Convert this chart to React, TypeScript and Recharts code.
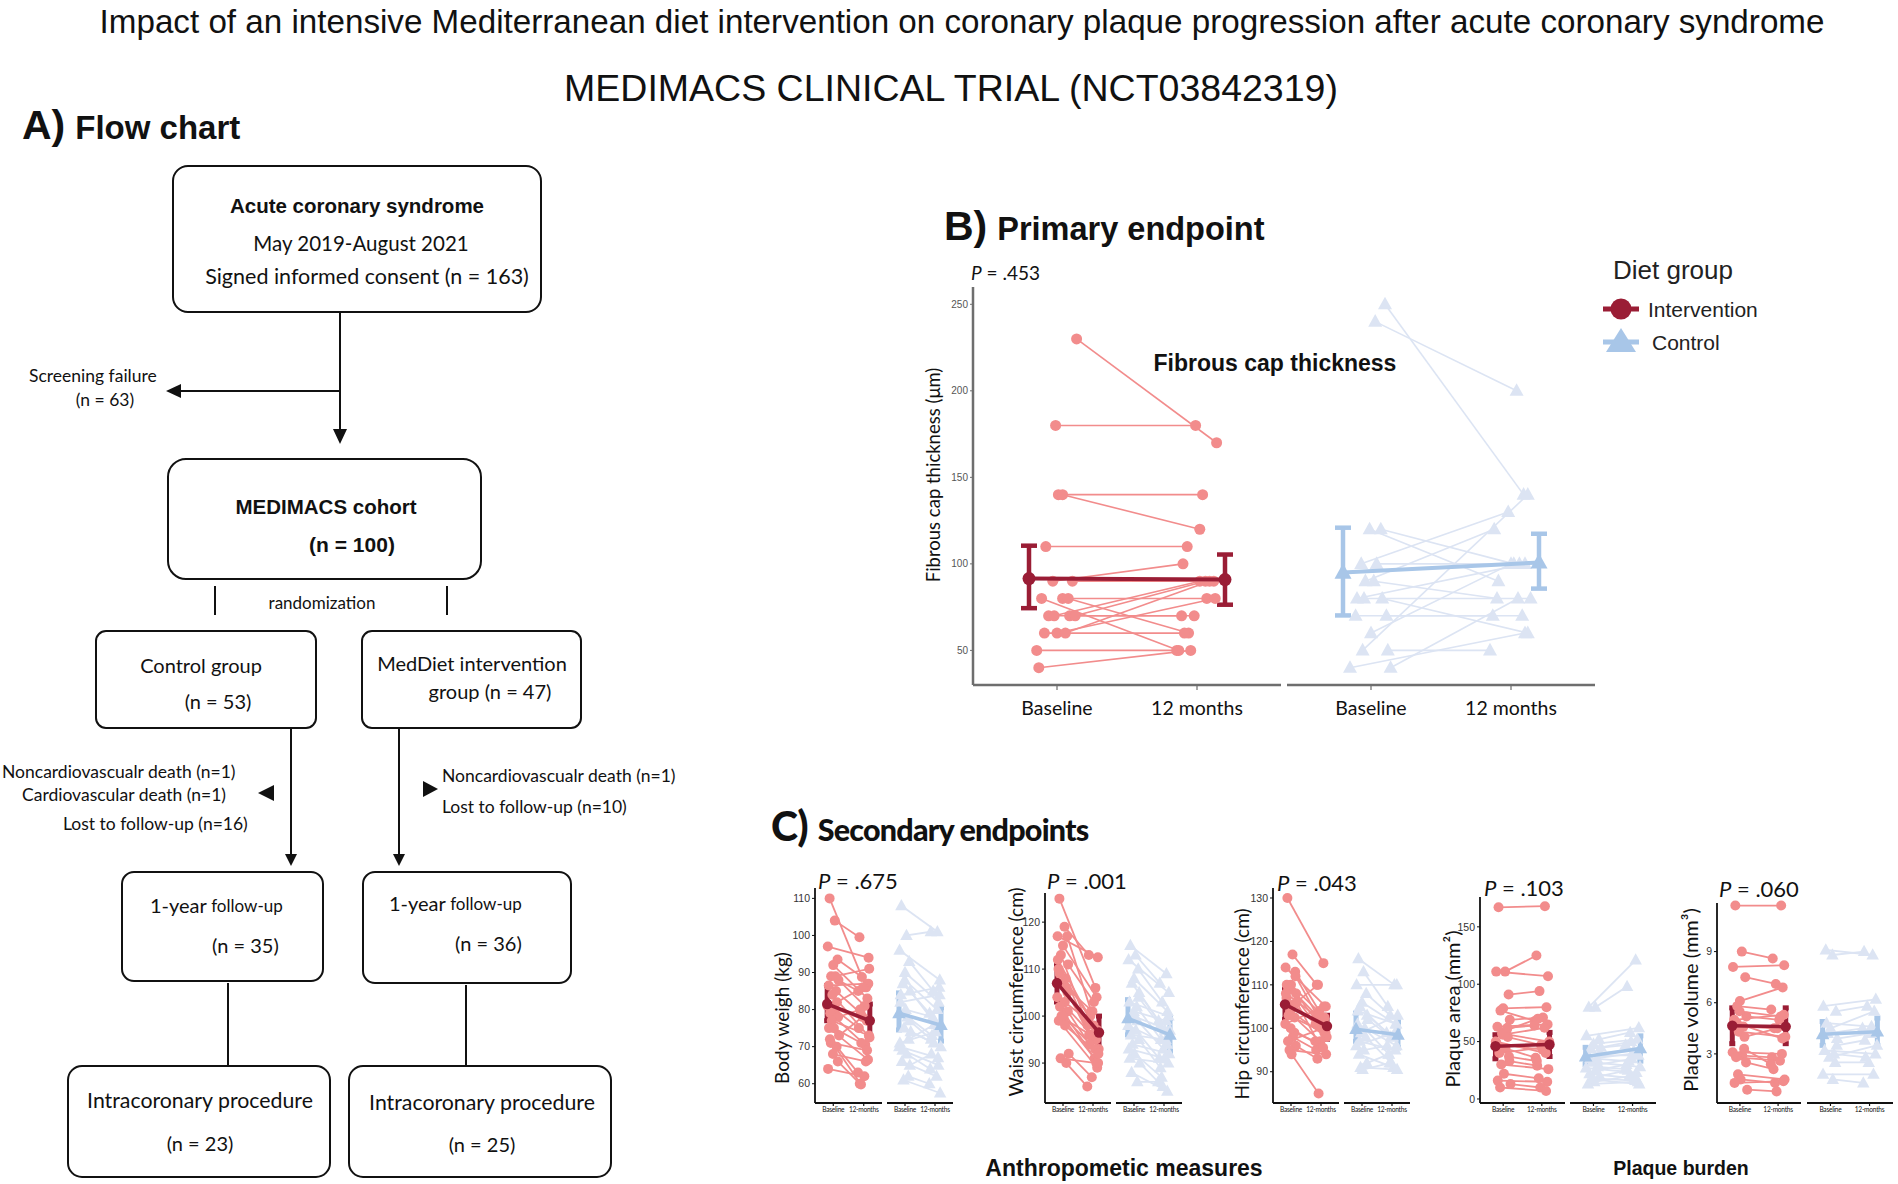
import React from 'react';
import { ScatterChart, Scatter, XAxis, YAxis, ErrorBar } from 'recharts';

const ARIAL = '"Liberation Sans", Arial, sans-serif';
const GILL = 'Lato, "Open Sans", sans-serif';

const INT_PT = '#F28C8C';
const INT_MEAN = '#9A1D35';
const CTRL_PT = '#DCE4F3';
const CTRL_MEAN = '#A8C6E8';

const TIME_B = ['Baseline', '12 months'];
const TIME_C = ['Baseline', '12-months'];
const MEAN_X = [0.8, 2.2];

// ---------- Panel B: fibrous cap thickness (µm) ----------
const FCT_INT_BASE = [230, 180, 140, 140, 110, 90, 90, 80, 80, 80, 70, 70, 70, 70, 60, 60, 60, 50, 40];
const FCT_INT_12M = [170, 180, 140, 120, 110, 100, 90, 50, 80, 60, 70, 90, 70, 90, 60, 80, 90, 50, 50];
const FCT_INT_BX = [1.14, 0.99, 1.01, 1.04, 0.92, 0.97, 1.11, 0.89, 1.04, 1.08, 0.94, 0.98, 1.09, 1.13, 0.91, 1.0, 1.06, 0.855, 0.87];
const FCT_INT_MX = [2.14, 1.99, 2.04, 2.02, 1.93, 1.9, 2.12, 1.87, 2.07, 1.94, 1.89, 2.02, 1.98, 2.06, 1.91, 2.13, 2.09, 1.855, 1.955];
const FCT_CTRL_BASE = [250, 240, 120, 120, 100, 100, 90, 90, 80, 80, 80, 70, 70, 60, 50, 50, 40, 40];
const FCT_CTRL_12M = [140, 200, 90, 100, 130, 100, 120, 80, 100, 80, 60, 70, 70, 100, 140, 50, 60, 80];
const FCT_CTRL_BX = [1.1, 1.03, 0.99, 1.07, 0.93, 1.04, 0.96, 1.02, 0.9, 0.95, 1.08, 0.89, 1.11, 1.0, 0.94, 1.12, 0.85, 1.14];
const FCT_CTRL_MX = [2.09, 2.04, 1.91, 2.02, 1.98, 2.06, 1.88, 1.9, 2.1, 2.14, 2.12, 1.87, 2.08, 2.0, 2.12, 1.85, 2.1, 2.05];
const FCT_INT_MEAN = [91.5, 90.9];
const FCT_INT_LO = [74.4, 76.4];
const FCT_INT_HI = [110.5, 105.4];
const FCT_CTRL_MEAN = [95, 100.8];
const FCT_CTRL_LO = [70.2, 85.7];
const FCT_CTRL_HI = [120.9, 117.4];
const FCT_TICKS = [50, 100, 150, 200, 250];

// ---------- Panel C: jitter (category offsets) ----------
const JB = [-0.12, 0.05, -0.18, 0.14, 0.0, -0.07, 0.17, -0.15, 0.09, -0.03, 0.12, -0.19, 0.06, -0.1, 0.16, -0.05, 0.02, -0.14, 0.19, -0.08, 0.11, -0.01, 0.15, -0.17, 0.07, -0.11, 0.13, -0.04, 0.18, -0.16];
const JM = [0.08, -0.14, 0.16, -0.06, 0.12, -0.18, 0.03, 0.15, -0.1, 0.19, -0.02, 0.1, -0.16, 0.05, -0.12, 0.17, -0.08, 0.14, -0.04, 0.11, -0.19, 0.07, -0.13, 0.02, 0.18, -0.09, 0.06, -0.15, 0.13, -0.01];

// Body weight (kg)
const BW_INT_BASE = [110, 104, 97, 93.5, 92, 89, 88, 86.5, 85, 84, 82, 81, 80, 79, 78, 77, 75, 75, 73, 71, 70, 68, 66, 64, 89, 72];
const BW_INT_12M = [86, 99.5, 94, 88.8, 83, 85, 81, 87, 79, 72.5, 86, 77, 75, 70.5, 80, 73, 71, 66.5, 78, 69, 63, 66, 60, 62, 91, 59.8];
const BW_CTRL_BASE = [108, 100, 96, 93, 90, 87, 85, 82, 78, 75, 72, 70, 68, 66, 65, 61, 80, 84, 74, 69, 62, 88, 77, 71];
const BW_CTRL_12M = [101, 101, 88, 85, 82, 79, 76, 84, 73, 70, 76, 67, 64, 62, 68, 57.5, 78, 86, 71, 65, 60, 80, 72, 74];
const BW_INT_MEAN = [81.5, 77];
const BW_INT_LO = [77, 73];
const BW_INT_HI = [86.5, 81.5];
const BW_CTRL_MEAN = [79, 75.8];
const BW_CTRL_LO = [74.5, 71.5];
const BW_CTRL_HI = [84.5, 80.5];
const BW_TICKS = [60, 70, 80, 90, 100, 110];

// Waist circumference (cm)
const WC_INT_BASE = [125, 119, 117, 117, 115, 113, 111, 110, 108, 107, 106, 104, 103, 102, 101, 100, 99.5, 99, 92, 91, 90, 100, 105, 112, 98, 109];
const WC_INT_12M = [106, 113, 112.5, 101, 104, 98, 103, 97, 96, 93, 101, 95, 99, 91, 94, 90, 96, 89, 87, 90, 85, 93, 96, 98, 92, 100];
const WC_CTRL_BASE = [115, 113, 112, 110, 108, 107, 105, 103, 102, 100, 99, 98, 97, 96, 95, 94, 92, 91, 90, 88, 86, 101, 104, 93];
const WC_CTRL_12M = [109, 107, 105, 103, 101, 99, 97, 100, 95, 97, 93, 94, 91, 95, 89, 92, 87, 90, 85, 84, 86, 99, 98, 91];
const WC_INT_MEAN = [107, 96.5];
const WC_INT_LO = [103, 93];
const WC_INT_HI = [111, 100];
const WC_CTRL_MEAN = [99.5, 96];
const WC_CTRL_LO = [96, 92.5];
const WC_CTRL_HI = [103.5, 99.5];
const WC_TICKS = [90, 100, 110, 120];

// Hip circumference (cm)
const HC_INT_BASE = [130, 117, 114, 113, 110, 109, 108, 107, 105.5, 104, 102.5, 101, 98, 97, 96, 95, 94, 110, 106, 103, 99, 100, 112, 108];
const HC_INT_12M = [115, 110, 105, 104, 102.5, 101, 100, 99, 110, 98, 97, 105, 95, 100, 93, 94, 85, 101, 96, 99, 97, 95.5, 103, 102];
const HC_CTRL_BASE = [116, 113, 110, 108, 106, 105, 103, 101, 100, 99, 98, 96, 95, 94, 92, 91, 90.5, 104, 102, 97];
const HC_CTRL_12M = [110, 105, 110, 103, 101, 99, 98, 96, 94, 103, 92, 99, 96, 91, 94, 90.5, 92, 101, 98, 95];
const HC_INT_MEAN = [105.5, 100.5];
const HC_INT_LO = [102, 97.5];
const HC_INT_HI = [109, 103];
const HC_CTRL_MEAN = [99.8, 98.5];
const HC_CTRL_LO = [97, 95.5];
const HC_CTRL_HI = [103.5, 101.5];
const HC_TICKS = [90, 100, 110, 120, 130];

// Plaque area (mm²)
const PA_INT_BASE = [167, 111, 111, 91, 79, 77, 69, 63, 60, 57, 54, 50, 44, 40, 33, 30, 22, 16, 13, 10, 62, 56, 37, 48];
const PA_INT_12M = [168, 125, 107, 94, 80, 68, 71, 65, 70, 50, 47, 40, 36, 45, 29, 26, 18, 15, 10, 7, 64, 62, 33, 43];
const PA_CTRL_BASE = [80, 80, 55, 52, 48, 44, 40, 38, 35, 32, 30, 27, 25, 22, 20, 17, 15, 13, 45, 35, 28, 18];
const PA_CTRL_12M = [121, 98, 62, 58, 52, 47, 42, 38, 33, 28, 35, 23, 30, 18, 25, 13, 20, 15, 50, 40, 26, 16];
const PA_INT_MEAN = [46, 47.5];
const PA_INT_LO = [35, 37];
const PA_INT_HI = [56, 58];
const PA_CTRL_MEAN = [37, 44];
const PA_CTRL_LO = [30, 33];
const PA_CTRL_HI = [45, 55];
const PA_TICKS = [0, 50, 100, 150];

// Plaque volume (mm³)
const PV_INT_BASE = [11.7, 9.0, 8.1, 7.5, 6.1, 5.8, 5.2, 5.0, 4.6, 4.3, 4.0, 3.1, 2.9, 2.8, 2.5, 1.8, 1.5, 1.3, 0.9, 4.8, 3.3, 5.5];
const PV_INT_12M = [11.7, 8.6, 8.2, 7.1, 6.9, 5.6, 5.0, 5.3, 4.5, 4.0, 4.5, 3.0, 2.8, 2.6, 2.1, 1.5, 1.3, 1.4, 0.8, 3.9, 2.4, 5.2];
const PV_CTRL_BASE = [9.1, 8.8, 5.8, 5.5, 4.5, 4.2, 3.9, 3.2, 3.0, 2.8, 2.5, 1.8, 1.5, 4.8, 3.5];
const PV_CTRL_12M = [8.8, 9.0, 6.2, 5.8, 5.5, 4.5, 4.2, 3.0, 2.8, 3.5, 2.5, 1.8, 1.3, 4.6, 3.8];
const PV_INT_MEAN = [4.65, 4.6];
const PV_INT_LO = [3.6, 3.6];
const PV_INT_HI = [5.7, 5.7];
const PV_CTRL_MEAN = [4.15, 4.3];
const PV_CTRL_LO = [3.5, 3.5];
const PV_CTRL_HI = [4.9, 5.1];
const PV_TICKS = [3, 6, 9];

// ---------- styles ----------
const PRESET_B = { r: 5.5, tri: 14, lw: 1.6, meanR: 6.5, meanTri: 17, meanLw: 4, errW: 4.5, cap: 8, axisColor: '#6e6e6e', axisW: 2.5, tickLen: 5, xFont: 19.5, xLs: 0, xMargin: 11, xH: 46, yFont: 10, yColor: '#555', yW: 36 };
const PRESET_C = { r: 5, tri: 12.5, lw: 1.8, meanR: 5.2, meanTri: 13.5, meanLw: 3.6, errW: 5, cap: 3, axisColor: '#111', axisW: 1.8, tickLen: 3, xFont: 6.6, xLs: -0.25, xMargin: 1, xH: 20, yFont: 10.5, yColor: '#333', yW: 28 };

const circleShape = (r: number, fill: string) => (props: any) =>
  props.cx == null ? <g /> : <circle cx={props.cx} cy={props.cy} r={r} fill={fill} />;

const triShape = (s: number, fill: string) => (props: any) => {
  if (props.cx == null) return <g />;
  const { cx, cy } = props;
  const h = s * 0.9;
  return <polygon points={`${cx},${cy - h * 0.6} ${cx - s / 2},${cy + h * 0.4} ${cx + s / 2},${cy + h * 0.4}`} fill={fill} />;
};

type FacetProps = {
  left: number; top: number; w: number; h: number;
  domain: [number, number]; ticks: number[]; showY: boolean;
  base: number[]; after: number[]; bx: number[]; ax: number[];
  mean: number[]; lo: number[]; hi: number[];
  group: 'int' | 'ctrl'; labels: string[]; P: typeof PRESET_B;
};

function Facet({ left, top, w, h, domain, ticks, showY, base, after, bx, ax, mean, lo, hi, group, labels, P }: FacetProps) {
  const pad = 14;
  const yW = showY ? P.yW : 0;
  const ptColor = group === 'int' ? INT_PT : CTRL_PT;
  const meanColor = group === 'int' ? INT_MEAN : CTRL_MEAN;
  const dot = group === 'int' ? circleShape(P.r, ptColor) : triShape(P.tri, ptColor);
  const meanDot = group === 'int' ? circleShape(P.meanR, meanColor) : triShape(P.meanTri, meanColor);
  const pairs = base.map((b, i) => [{ x: bx[i], y: b }, { x: ax[i], y: after[i] }]);
  const meanData = MEAN_X.map((xv, i) => ({ x: xv, y: mean[i], err: [mean[i] - lo[i], hi[i] - mean[i]] }));
  return (
    <div style={{ position: 'absolute', left: left - yW, top: top - pad }}>
      <ScatterChart width={yW + w + pad} height={pad + h + P.xH} margin={{ top: pad, right: pad, bottom: 0, left: 0 }}>
        <XAxis
          type="number" dataKey="x" domain={[0.4, 2.6]} ticks={[1, 2]} interval={0} height={P.xH}
          tickFormatter={(v: number) => (v === 1 ? labels[0] : labels[1])}
          axisLine={{ stroke: P.axisColor, strokeWidth: P.axisW }}
          tickLine={{ stroke: P.axisColor, strokeWidth: 1.2 }}
          tickSize={P.tickLen} tickMargin={P.xMargin}
          tick={{ fontSize: P.xFont, fill: '#111', fontFamily: GILL, letterSpacing: P.xLs }}
        />
        <YAxis
          type="number" dataKey="y" domain={domain} ticks={ticks} hide={!showY} width={yW || 1} interval={0}
          axisLine={{ stroke: P.axisColor, strokeWidth: P.axisW }}
          tickLine={{ stroke: P.axisColor, strokeWidth: 1 }}
          tickSize={3} tickMargin={2}
          tick={{ fontSize: P.yFont, fill: P.yColor, fontFamily: ARIAL }}
        />
        {pairs.map((d, i) => (
          <Scatter key={i} data={d} line={{ stroke: ptColor, strokeWidth: P.lw }} shape={dot} isAnimationActive={false} />
        ))}
        <Scatter data={meanData} line={{ stroke: meanColor, strokeWidth: P.meanLw }} shape={meanDot} isAnimationActive={false}>
          <ErrorBar dataKey="err" direction="y" width={P.cap} stroke={meanColor} strokeWidth={P.errW} />
        </Scatter>
      </ScatterChart>
    </div>
  );
}

const jb = (n: number) => JB.slice(0, n).map((v) => 1 + v);
const jm = (n: number) => JM.slice(0, n).map((v) => 2 + v);

type SmallProps = {
  f1: number; w1: number; f2: number; w2: number; top: number; h: number;
  domain: [number, number]; ticks: number[];
  ib: number[]; im: number[]; cb: number[]; cm: number[];
  imean: number[]; ilo: number[]; ihi: number[];
  cmean: number[]; clo: number[]; chi: number[];
};

function SmallPair(s: SmallProps) {
  return (
    <>
      <Facet left={s.f1} top={s.top} w={s.w1} h={s.h} domain={s.domain} ticks={s.ticks} showY
        base={s.ib} after={s.im} bx={jb(s.ib.length)} ax={jm(s.im.length)}
        mean={s.imean} lo={s.ilo} hi={s.ihi} group="int" labels={TIME_C} P={PRESET_C} />
      <Facet left={s.f2} top={s.top} w={s.w2} h={s.h} domain={s.domain} ticks={s.ticks} showY={false}
        base={s.cb} after={s.cm} bx={jb(s.cb.length)} ax={jm(s.cm.length)}
        mean={s.cmean} lo={s.clo} hi={s.chi} group="ctrl" labels={TIME_C} P={PRESET_C} />
    </>
  );
}

const T = ({ x, y, size, children, anchor = 'start', weight = 400, family = GILL, fill = '#111', rot = false, ls = 0 }: any) => (
  <text x={x} y={y} fontSize={size} textAnchor={anchor} fontWeight={weight} fontFamily={family} fill={fill}
    dominantBaseline="central" letterSpacing={ls} transform={rot ? `rotate(-90 ${x} ${y})` : undefined}>
    {children}
  </text>
);

const PLabel = ({ x, y, value, size = 22 }: any) => (
  <text x={x} y={y} fontSize={size} fontFamily={GILL} fill="#111" dominantBaseline="central">
    <tspan fontStyle="italic">P</tspan> = {value}
  </text>
);

function FlowChart() {
  const box = { fill: 'none', stroke: '#111', strokeWidth: 2 };
  const ln = { stroke: '#111', strokeWidth: 2 };
  return (
    <g>
      <rect x={173} y={166} width={368} height={146} rx={15} {...box} />
      <rect x={168} y={459} width={313} height={120} rx={18} {...box} />
      <rect x={96} y={631} width={220} height={97} rx={10} {...box} />
      <rect x={362} y={631} width={219} height={97} rx={10} {...box} />
      <rect x={122} y={872} width={201} height={109} rx={12} {...box} />
      <rect x={363} y={872} width={208} height={111} rx={12} {...box} />
      <rect x={68} y={1066} width={262} height={111} rx={14} {...box} />
      <rect x={349} y={1066} width={262} height={111} rx={14} {...box} />

      <line x1={340} y1={312} x2={340} y2={432} {...ln} />
      <polygon points="333,429 347,429 340,444" fill="#111" />
      <line x1={340} y1={391} x2={178} y2={391} {...ln} />
      <polygon points="166,391 181,384 181,398" fill="#111" />
      <line x1={215} y1={586} x2={215} y2={615} {...ln} />
      <line x1={447} y1={586} x2={447} y2={615} {...ln} />
      <line x1={291} y1={728} x2={291} y2={856} {...ln} />
      <polygon points="285,854 297,854 291,866" fill="#111" />
      <line x1={399} y1={728} x2={399} y2={856} {...ln} />
      <polygon points="393,854 405,854 399,866" fill="#111" />
      <polygon points="258,793 274,785 274,801" fill="#111" />
      <polygon points="438,789 423,781 423,797" fill="#111" />
      <line x1={228} y1={983} x2={228} y2={1066} {...ln} />
      <line x1={466} y1={985} x2={466} y2={1066} {...ln} />

      <T x={357} y={205} size={20.5} anchor="middle" weight={700} family={ARIAL}>Acute coronary syndrome</T>
      <T x={361} y={243} size={20.5} anchor="middle">May 2019-August 2021</T>
      <T x={367} y={276} size={21.5} anchor="middle">Signed informed consent (n = 163)</T>
      <T x={29} y={375} size={17.5}>Screening failure</T>
      <T x={105} y={399} size={17.5} anchor="middle">(n = 63)</T>
      <T x={326} y={506} size={20.5} anchor="middle" weight={700} family={ARIAL}>MEDIMACS cohort</T>
      <T x={352} y={544} size={21} anchor="middle" weight={700} family={ARIAL}>(n = 100)</T>
      <T x={322} y={602} size={17} anchor="middle">randomization</T>
      <T x={201} y={665} size={20} anchor="middle">Control group</T>
      <T x={218} y={701} size={20} anchor="middle">(n = 53)</T>
      <T x={472} y={663} size={20} anchor="middle">MedDiet intervention</T>
      <T x={490} y={691} size={20} anchor="middle">group (n = 47)</T>
      <T x={2} y={771} size={17.5}>Noncardiovascualr death (n=1)</T>
      <T x={22} y={794} size={17.5}>Cardiovascular death (n=1)</T>
      <T x={63} y={823} size={17.5}>Lost to follow-up (n=16)</T>
      <T x={442} y={775} size={17.5}>Noncardiovascualr death (n=1)</T>
      <T x={442} y={806} size={17.5}>Lost to follow-up (n=10)</T>
      <text x={150} y={905} fontFamily={GILL} fill="#111" dominantBaseline="central"><tspan fontSize={20}>1-year</tspan><tspan fontSize={17}>{'  follow-up'}</tspan></text>
      <T x={212} y={945} size={20}>(n = 35)</T>
      <text x={389} y={903} fontFamily={GILL} fill="#111" dominantBaseline="central"><tspan fontSize={20}>1-year</tspan><tspan fontSize={17}>{'  follow-up'}</tspan></text>
      <T x={455} y={943} size={20}>(n = 36)</T>
      <T x={200} y={1100} size={21.3} anchor="middle">Intracoronary procedure</T>
      <T x={200} y={1143} size={20} anchor="middle">(n = 23)</T>
      <T x={482} y={1102} size={21.3} anchor="middle">Intracoronary procedure</T>
      <T x={482} y={1144} size={20} anchor="middle">(n = 25)</T>
    </g>
  );
}

function Legend() {
  return (
    <g>
      <T x={1613} y={270} size={26} family={ARIAL} fill="#222">Diet group</T>
      <line x1={1603} y1={309} x2={1639} y2={309} stroke={INT_MEAN} strokeWidth={5} />
      <circle cx={1621} cy={309} r={10.5} fill={INT_MEAN} />
      <T x={1648} y={309} size={21} family={ARIAL} fill="#222">{'Intervention'}</T>
      <line x1={1603} y1={342} x2={1639} y2={342} stroke={CTRL_MEAN} strokeWidth={5} />
      <polygon points="1621,328 1606,352 1636,352" fill={CTRL_MEAN} />
      <T x={1652} y={342} size={21} family={ARIAL} fill="#222">{'Control'}</T>
    </g>
  );
}

export default function App() {
  return (
    <div style={{ position: 'absolute', left: 0, top: 0, width: 1898, height: 1184, background: '#fff', overflow: 'hidden' }}>
      <svg width={1898} height={1184} style={{ position: 'absolute', left: 0, top: 0 }}>
        <T x={962} y={21} size={33.2} anchor="middle" family={ARIAL}>Impact of an intensive Mediterranean diet intervention on coronary plaque progression after acute coronary syndrome</T>
        <T x={951} y={88} size={37.5} anchor="middle" family={ARIAL}>MEDIMACS CLINICAL TRIAL (NCT03842319)</T>

        <text x={22} y={139} fontFamily={ARIAL} fontWeight={700} fill="#111">
          <tspan fontSize={41}>A)</tspan><tspan fontSize={33} dx={10}>Flow chart</tspan>
        </text>
        <text x={944} y={240} fontFamily={ARIAL} fontWeight={700} fill="#111">
          <tspan fontSize={41}>B)</tspan><tspan fontSize={32.5} dx={10}>Primary endpoint</tspan>
        </text>
        <text x={771} y={841} fontFamily={GILL} fontWeight={900} fill="#111" letterSpacing={-0.8}>
          <tspan fontSize={41}>C)</tspan><tspan fontSize={30.5} dx={10}>Secondary endpoints</tspan>
        </text>

        <FlowChart />
        <Legend />

        <PLabel x={971} y={272} value=".453" size={19} />
        <T x={1275} y={363} size={23} anchor="middle" weight={700} family={ARIAL}>Fibrous cap thickness</T>
        <T x={933} y={475} size={18.5} anchor="middle" rot>Fibrous cap thickness (μm)</T>

        <PLabel x={818} y={880} value=".675" />
        <PLabel x={1047} y={880} value=".001" />
        <PLabel x={1277} y={882} value=".043" />
        <PLabel x={1484} y={887} value=".103" />
        <PLabel x={1719} y={888} value=".060" />

        <T x={781} y={1018} size={19} anchor="middle" rot>Body weigh (kg)</T>
        <T x={1015} y={992} size={19} anchor="middle" rot>Waist circumference (cm)</T>
        <T x={1241} y={1004} size={19} anchor="middle" rot>Hip circumference (cm)</T>
        <T x={1452} y={1009} size={20} anchor="middle" rot>Plaque area (mm²)</T>
        <T x={1690} y={1000} size={20} anchor="middle" rot>Plaque volume (mm³)</T>

        <T x={1124} y={1168} size={23} anchor="middle" weight={700} family={ARIAL}>Anthropometic measures</T>
        <T x={1681} y={1168} size={19.5} anchor="middle" weight={700} family={ARIAL}>Plaque burden</T>
      </svg>

      <Facet left={973} top={287} w={308} h={398} domain={[30, 260]} ticks={FCT_TICKS} showY
        base={FCT_INT_BASE} after={FCT_INT_12M} bx={FCT_INT_BX} ax={FCT_INT_MX}
        mean={FCT_INT_MEAN} lo={FCT_INT_LO} hi={FCT_INT_HI} group="int" labels={TIME_B} P={PRESET_B} />
      <Facet left={1287} top={287} w={308} h={398} domain={[30, 260]} ticks={FCT_TICKS} showY={false}
        base={FCT_CTRL_BASE} after={FCT_CTRL_12M} bx={FCT_CTRL_BX} ax={FCT_CTRL_MX}
        mean={FCT_CTRL_MEAN} lo={FCT_CTRL_LO} hi={FCT_CTRL_HI} group="ctrl" labels={TIME_B} P={PRESET_B} />

      <SmallPair f1={815} w1={67} f2={887} w2={66} top={888} h={215} domain={[54.8, 112.8]} ticks={BW_TICKS}
        ib={BW_INT_BASE} im={BW_INT_12M} cb={BW_CTRL_BASE} cm={BW_CTRL_12M}
        imean={BW_INT_MEAN} ilo={BW_INT_LO} ihi={BW_INT_HI} cmean={BW_CTRL_MEAN} clo={BW_CTRL_LO} chi={BW_CTRL_HI} />
      <SmallPair f1={1045} w1={66} f2={1116} w2={66} top={893} h={210} domain={[81.5, 126.2]} ticks={WC_TICKS}
        ib={WC_INT_BASE} im={WC_INT_12M} cb={WC_CTRL_BASE} cm={WC_CTRL_12M}
        imean={WC_INT_MEAN} ilo={WC_INT_LO} ihi={WC_INT_HI} cmean={WC_CTRL_MEAN} clo={WC_CTRL_LO} chi={WC_CTRL_HI} />
      <SmallPair f1={1273} w1={66} f2={1344} w2={66} top={888} h={215} domain={[82.8, 132.3]} ticks={HC_TICKS}
        ib={HC_INT_BASE} im={HC_INT_12M} cb={HC_CTRL_BASE} cm={HC_CTRL_12M}
        imean={HC_INT_MEAN} ilo={HC_INT_LO} ihi={HC_INT_HI} cmean={HC_CTRL_MEAN} clo={HC_CTRL_LO} chi={HC_CTRL_HI} />
      <SmallPair f1={1480} w1={85} f2={1570} w2={86} top={897} h={206} domain={[-3.5, 176]} ticks={PA_TICKS}
        ib={PA_INT_BASE} im={PA_INT_12M} cb={PA_CTRL_BASE} cm={PA_CTRL_12M}
        imean={PA_INT_MEAN} ilo={PA_INT_LO} ihi={PA_INT_HI} cmean={PA_CTRL_MEAN} clo={PA_CTRL_LO} chi={PA_CTRL_HI} />
      <SmallPair f1={1717} w1={84} f2={1807} w2={86} top={903} h={200} domain={[0.12, 11.85]} ticks={PV_TICKS}
        ib={PV_INT_BASE} im={PV_INT_12M} cb={PV_CTRL_BASE} cm={PV_CTRL_12M}
        imean={PV_INT_MEAN} ilo={PV_INT_LO} ihi={PV_INT_HI} cmean={PV_CTRL_MEAN} clo={PV_CTRL_LO} chi={PV_CTRL_HI} />
    </div>
  );
}
